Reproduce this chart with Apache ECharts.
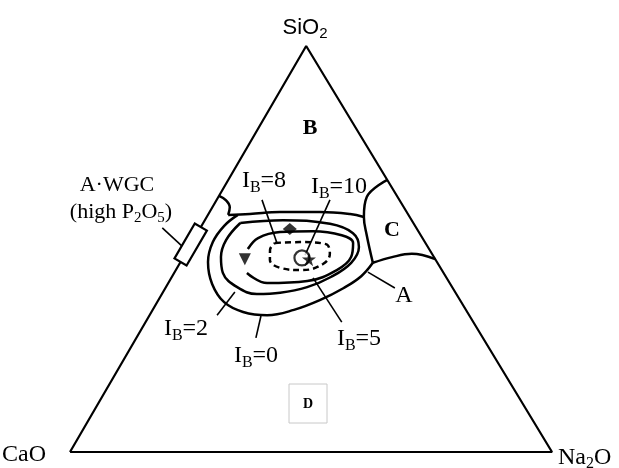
<!DOCTYPE html>
<html>
<head>
<meta charset="utf-8">
<script src="https://cdn.jsdelivr.net/npm/echarts@6/dist/echarts.min.js"></script>
<style>
  html, body { margin: 0; background: #fff; }
  #chart { width: 619px; height: 468px; }
</style>
</head>
<body>
<div id="chart"></div>
<script>
// compositions are [SiO2, Na2O] (wt%), CaO is the rest
const vertexCaO = [0, 0]
const vertexNa2O = [0, 100]
const vertexSiO2 = [100, 0]

// field boundaries
const arcB = [[63.1, 0], [62.0, 2.0], [60.3, 3.6], [58.4, 4.2]]
const boundaryB = [[58.4, 4.2], [58.6, 8.6], [59.1, 14.6], [59.1, 22.9], [58.6, 29.4], [57.9, 32.6]]
const boundaryC = [[67.0, 33.0], [62.8, 30.8], [57.9, 32.6], [53.4, 35.4], [46.6, 40.0]]
const boundaryD = [[46.6, 40.0], [48.0, 43.3], [48.8, 47.0], [47.5, 52.5]]

// iso-bioactivity contours
const ib0 = [[58.4, 6.2], [55.7, 4.7], [51.7, 4.3], [46.8, 5.7], [41.4, 9.2], [36.9, 13.9], [34.5, 19.0],
  [33.7, 24.4], [35.0, 29.3], [37.4, 33.5], [40.4, 37.0], [43.3, 39.2], [46.6, 40.0]]
const ib2 = [[56.4, 7.7], [57.1, 16.2], [56.2, 26.4], [53.9, 32.3], [50.5, 35.2], [46.6, 35.5], [43.1, 33.0],
  [40.6, 29.3], [39.2, 24.4], [38.9, 19.7], [40.6, 14.8], [44.1, 10.1], [48.0, 7.8], [52.2, 6.8], [56.4, 7.7]]
const ib5 = [[44.1, 15.1], [41.6, 20.5], [42.1, 28.6], [44.8, 33.4], [48.0, 34.8], [51.5, 33.5], [53.4, 30.2],
  [54.4, 23.7], [54.2, 17.0], [52.7, 13.2], [50.0, 12.4]]
const ib8 = [[51.5, 17.3], [51.7, 22.4], [51.2, 28.0], [48.8, 30.0], [46.3, 29.8], [44.8, 26.3], [45.3, 21.6],
  [47.3, 18.3], [49.8, 17.1], [51.5, 17.3]]

// glasses
const glassDiamond = [[54.9, 18.7]]
const glassTriangle = [[47.5, 13.0]]
const glassCircle = [[47.8, 24.7]]
const glassStar = [[47.5, 26.3]]

// A-WGC range on the CaO-SiO2 join (SiO2 wt%)
const wgcRange = [46.8, 55.4]

// label leaders
const leaders = [
  [[62.1, 9.4], [51.5, 17.7]],
  [[62.1, 23.5], [48.5, 25.0]],
  [[33.7, 14.0], [39.4, 14.9]],
  [[28.1, 24.8], [33.5, 23.2]],
  [[42.9, 29.4], [32.0, 40.7]],
  [[44.3, 40.1], [40.4, 47.6]],
  [[55.2, -7.9], [50.7, -1.6]]
]

// the printed triangle has its apex slightly left of centre
const apexX = 0.49
const toXY = (p) => [p[1] + p[0] * apexX, p[0]]

const serif = '"Liberation Serif", "DejaVu Serif", serif'
const sans = '"Liberation Sans", Arial, sans-serif'

const lineSeries = (data, opts = {}) => ({
  type: 'line',
  data: data.map(toXY),
  symbol: 'none',
  smooth: opts.smooth === undefined ? 0.4 : opts.smooth,
  silent: true,
  z: 2,
  lineStyle: { color: '#000', width: opts.width || 2.5, type: opts.type || 'solid' }
})

const ibRich = {
  i: { fontFamily: serif, fontSize: 24, color: '#000' },
  s: { fontFamily: serif, fontSize: 16, color: '#000', padding: [14, 0, 0, 0] }
}
const ibLabel = (x, y, v) => ({
  type: 'text', x: x, y: y,
  style: { text: '{i|I}{s|B}{i|=' + v + '}', rich: ibRich, align: 'center', verticalAlign: 'middle' }
})
const plainLabel = (x, y, text, size, bold) => ({
  type: 'text', x: x, y: y,
  style: { text: text, fontFamily: serif, fontSize: size, fontWeight: bold ? 'bold' : 'normal',
    fill: '#000', align: 'center', verticalAlign: 'middle' }
})

const chart = echarts.init(document.getElementById('chart'))
chart.setOption({
  animation: false,
  backgroundColor: '#fff',
  grid: { left: 70, right: 67, top: 46, bottom: 16 },
  xAxis: { type: 'value', min: 0, max: 100, show: false },
  yAxis: { type: 'value', min: 0, max: 100, show: false },
  series: [
    lineSeries([vertexCaO, vertexNa2O, vertexSiO2, vertexCaO], { smooth: false, width: 2.2 }),
    lineSeries(arcB),
    lineSeries(boundaryB),
    lineSeries(boundaryC),
    lineSeries(boundaryD),
    lineSeries(ib0),
    lineSeries(ib2),
    lineSeries(ib5),
    lineSeries(ib8, { type: [6, 4] }),
    ...leaders.map(l => lineSeries(l, { smooth: false, width: 1.6 })),
    {
      type: 'custom',
      coordinateSystem: 'cartesian2d',
      silent: true,
      z: 4,
      encode: { x: [0, 2], y: [1, 3] },
      data: [[...toXY([wgcRange[0], 0]), ...toXY([wgcRange[1], 0])]],
      renderItem: (params, api) => {
        const a = api.coord([api.value(0), api.value(1)])
        const b = api.coord([api.value(2), api.value(3)])
        const len = Math.hypot(b[0] - a[0], b[1] - a[1])
        const nx = -(b[1] - a[1]) / len * 7
        const ny = (b[0] - a[0]) / len * 7
        return {
          type: 'polygon',
          shape: { points: [[a[0] + nx, a[1] + ny], [b[0] + nx, b[1] + ny], [b[0] - nx, b[1] - ny], [a[0] - nx, a[1] - ny]] },
          style: { fill: '#fff', stroke: '#000', lineWidth: 2.2 }
        }
      }
    },
    { type: 'scatter', data: glassDiamond.map(toXY), symbol: 'diamond', symbolSize: [14, 12], z: 5,
      itemStyle: { color: '#000' } },
    { type: 'scatter', data: glassTriangle.map(toXY), symbol: 'triangle', symbolRotate: 180, symbolSize: 12, z: 5,
      itemStyle: { color: '#000' } },
    { type: 'scatter', data: glassCircle.map(toXY), symbol: 'circle', symbolSize: 15, z: 5,
      itemStyle: { color: '#fff', borderColor: '#000', borderWidth: 2.2 } },
    { type: 'scatter', data: glassStar.map(toXY), z: 6, symbolSize: 14,
      symbol: 'path://M50,0 L61,35 L98,35 L68,57 L79,91 L50,70 L21,91 L32,57 L2,35 L39,35 Z',
      itemStyle: { color: '#000' } }
  ],
  graphic: [
    {
      type: 'text', x: 305, y: 28,
      style: {
        text: '{a|SiO}{b|2}', align: 'center', verticalAlign: 'middle',
        rich: { a: { fontFamily: sans, fontSize: 22, color: '#000' },
          b: { fontFamily: sans, fontSize: 15, color: '#000', padding: [12, 0, 0, 0] } }
      }
    },
    {
      type: 'text', x: 2, y: 455,
      style: { text: 'CaO', fontFamily: serif, fontSize: 24, fill: '#000', align: 'left', verticalAlign: 'middle' }
    },
    {
      type: 'text', x: 558, y: 458,
      style: {
        text: '{a|Na}{b|2}{a|O}', align: 'left', verticalAlign: 'middle',
        rich: { a: { fontFamily: serif, fontSize: 24, color: '#000' },
          b: { fontFamily: serif, fontSize: 16, color: '#000', padding: [12, 0, 0, 0] } }
      }
    },
    plainLabel(310, 128, 'B', 22, true),
    plainLabel(392, 230, 'C', 22, true),
    plainLabel(404, 296, 'A', 24, false),
    {
      type: 'rect', shape: { x: 289, y: 384, width: 38, height: 39 },
      style: { fill: 'none', stroke: '#c8c8c8', lineWidth: 1 }
    },
    plainLabel(308, 404, 'D', 14, true),
    plainLabel(117, 185, 'A\u00b7WGC', 22, false),
    {
      type: 'text', x: 121, y: 212,
      style: {
        text: '{a|(high P}{b|2}{a|O}{b|5}{a|)}', align: 'center', verticalAlign: 'middle',
        rich: { a: { fontFamily: serif, fontSize: 22, color: '#000' },
          b: { fontFamily: serif, fontSize: 15, color: '#000', padding: [12, 0, 0, 0] } }
      }
    },
    ibLabel(264, 181, '8'),
    ibLabel(339, 187, '10'),
    ibLabel(186, 329, '2'),
    ibLabel(256, 356, '0'),
    ibLabel(359, 339, '5')
  ]
})
</script>
</body>
</html>
